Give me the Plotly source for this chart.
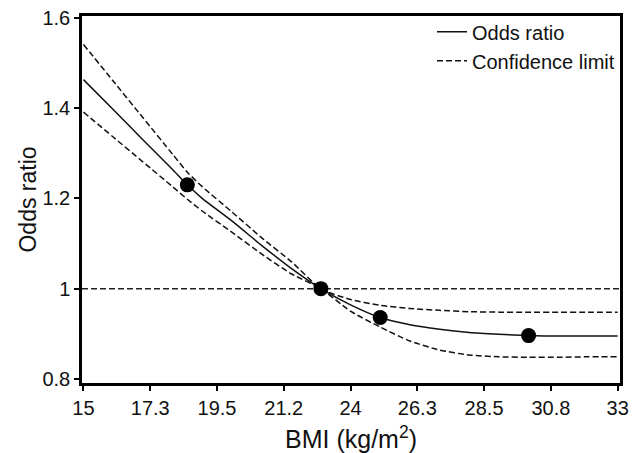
import plotly.graph_objects as go

# ---- data ----
bmi = [15, 16, 17, 18, 18.5, 19, 20, 21, 22, 23, 24, 25, 26, 27, 28, 29, 30, 31, 32, 33]
odds_ratio = [1.463, 1.397, 1.330, 1.264, 1.230, 1.200, 1.150, 1.096, 1.045, 1.000,
              0.964, 0.936, 0.920, 0.910, 0.903, 0.899, 0.896, 0.895, 0.895, 0.895]
upper_cl = [1.541, 1.460, 1.379, 1.298, 1.258, 1.226, 1.170, 1.113, 1.060, 1.000,
            0.976, 0.963, 0.956, 0.952, 0.949, 0.948, 0.948, 0.948, 0.948, 0.948]
lower_cl = [1.391, 1.336, 1.281, 1.226, 1.198, 1.172, 1.125, 1.077, 1.033, 1.000,
            0.950, 0.915, 0.884, 0.864, 0.853, 0.849, 0.848, 0.848, 0.849, 0.849]

point_bmi = [18.5, 23, 25, 30]
point_or = [1.230, 1.000, 0.936, 0.896]

reference_or = 1.0

x_tickvals = [15, 17.25, 19.5, 21.75, 24, 26.25, 28.5, 30.75, 33]
x_ticktext = ["15", "17.3", "19.5", "21.2", "24", "26.3", "28.5", "30.8", "33"]
y_tickvals = [0.8, 1.0, 1.2, 1.4, 1.6]
y_ticktext = ["0.8", "1", "1.2", "1.4", "1.6"]

FONT = "Liberation Sans, Arial, sans-serif"
DASH = "6px,3px"

fig = go.Figure()

fig.add_hline(y=reference_or, line=dict(color="#222", width=1.5, dash=DASH), layer="below")

fig.add_trace(go.Scatter(
    x=bmi, y=odds_ratio, mode="lines", name="Odds ratio",
    line=dict(color="#111", width=1.5, shape="spline", smoothing=0.6),
))
fig.add_trace(go.Scatter(
    x=bmi, y=upper_cl, mode="lines", name="Confidence limit", legendgroup="cl",
    line=dict(color="#111", width=1.5, dash=DASH, shape="spline", smoothing=0.6),
))
fig.add_trace(go.Scatter(
    x=bmi, y=lower_cl, mode="lines", name="Confidence limit", legendgroup="cl",
    showlegend=False,
    line=dict(color="#111", width=1.5, dash=DASH, shape="spline", smoothing=0.6),
))
fig.add_trace(go.Scatter(
    x=point_bmi, y=point_or, mode="markers", showlegend=False,
    marker=dict(color="black", size=15),
))

axis_common = dict(
    showline=True, linecolor="black", linewidth=2.5, mirror=True,
    ticks="outside", ticklen=5, tickwidth=1.5, tickcolor="black",
    showgrid=False, zeroline=False, automargin=False,
    tickfont=dict(family=FONT, size=20, color="#111"),
)

fig.update_xaxes(
    range=[14.95, 33.08], tickmode="array", tickvals=x_tickvals, ticktext=x_ticktext,
    title=dict(text="BMI (kg/m<sup>2</sup>)", font=dict(family=FONT, size=25, color="#111")),
    **axis_common,
)
fig.update_yaxes(
    range=[0.791, 1.604], tickmode="array", tickvals=y_tickvals, ticktext=y_ticktext,
    title=dict(text="Odds ratio", font=dict(family=FONT, size=23, color="#111"), standoff=0),
    **axis_common,
)

fig.update_layout(
    width=642, height=453,
    margin=dict(l=82, r=22, t=13, b=70),
    paper_bgcolor="white", plot_bgcolor="white",
    font=dict(family=FONT, color="#111"),
    legend=dict(x=1, xanchor="right", y=1.01, yanchor="top",
                bgcolor="rgba(0,0,0,0)", font=dict(family=FONT, size=20),
                tracegroupgap=0, itemwidth=30),
    showlegend=True,
)

fig.write_html("out.html", config={"displayModeBar": False},
               post_script="document.body.style.margin='0';")
